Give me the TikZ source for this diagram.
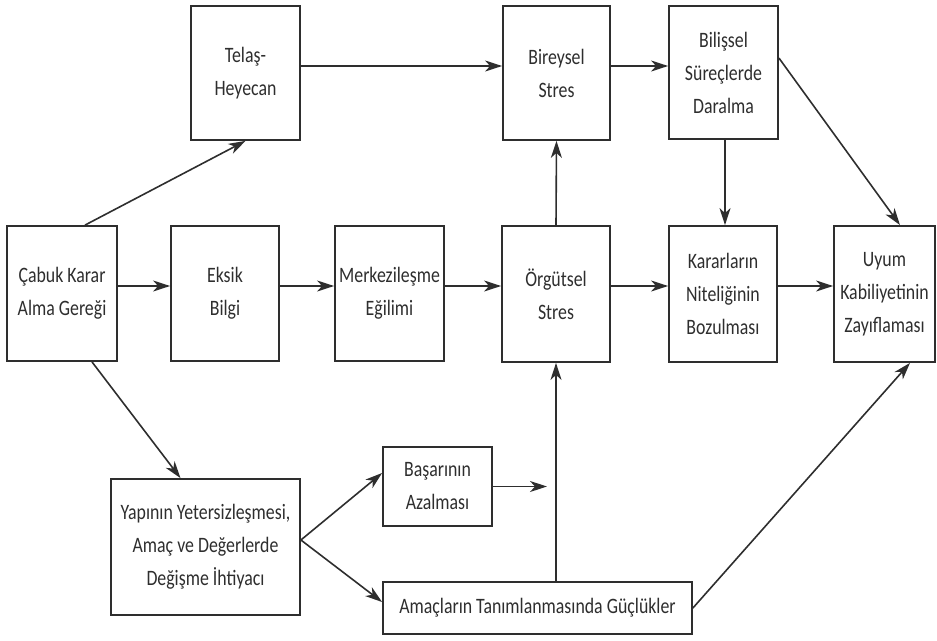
\documentclass[tikz,border=0pt]{standalone}
\usepackage{fontspec}
\setmainfont[FakeStretch=0.81]{Carlito}
\usetikzlibrary{arrows.meta,calc}
\definecolor{ink}{HTML}{2E2E2E}
\tikzset{
  box/.style={draw=ink,line width=1.8pt,rectangle,align=center,inner sep=0pt,
    font=\fontsize{22}{33}\selectfont,text=ink},
  arr/.style={draw=ink,line width=1.6pt,-{Stealth[length=17pt,width=11pt,inset=5pt]}},
}
\begin{document}
\begin{tikzpicture}[x=1pt,y=-1pt]
\useasboundingbox (0,0) rectangle (937,640);
\node[box,minimum width=110pt,minimum height=135pt] (cabuk) at (62,293.5) {Çabuk Karar\\Alma Gereği};
\node[box,minimum width=109pt,minimum height=134pt] (telas) at (245.5,73) {Telaş-\\Heyecan};
\node[box,minimum width=108pt,minimum height=135pt] (eksik) at (225,293.5) {Eksik\\Bilgi};
\node[box,minimum width=109pt,minimum height=135pt] (merkez) at (389.5,293.5) {Merkezileşme\\Eğilimi};
\node[box,minimum width=107pt,minimum height=134pt] (bireysel) at (556.5,73) {Bireysel\\Stres};
\node[box,minimum width=109pt,minimum height=133pt] (bilissel) at (723.5,72.5) {Bilişsel\\Süreçlerde\\Daralma};
\node[box,minimum width=108pt,minimum height=136pt] (orgutsel) at (556,294) {Örgütsel\\Stres};
\node[box,minimum width=108pt,minimum height=136pt] (kararlar) at (723,294) {Kararların\\Niteliğinin\\Bozulması};
\node[box,minimum width=101pt,minimum height=136pt] (uyum) at (884.5,294) {Uyum\\Kabiliyetinin\\Zayıflaması};
\node[box,minimum width=109pt,minimum height=79pt] (basari) at (437.5,486.5) {Başarının\\Azalması};
\node[box,minimum width=189pt,minimum height=136pt] (yapi) at (205.5,547) {Yapının Yetersizleşmesi,\\Amaç ve Değerlerde\\Değişme İhtiyacı};
\node[box,minimum width=309pt,minimum height=52pt] (amac) at (537.5,608) {Amaçların Tanımlanmasında Güçlükler};
\coordinate (bend) at (547,486.5);

\draw[arr] ([xshift=23pt]cabuk.north) -- (telas.south);
\draw[arr] ([yshift=7.5pt]cabuk.east) -- ([yshift=7.5pt]eksik.west);
\draw[arr] ([yshift=7.5pt]eksik.east) -- ([yshift=7.5pt]merkez.west);
\draw[arr] ([yshift=7.5pt]merkez.east) -- ([yshift=8pt]orgutsel.west);
\draw[arr] ([yshift=8pt]orgutsel.east) -- ([yshift=8pt]kararlar.west);
\draw[arr] ([yshift=8pt]kararlar.east) -- ([yshift=8pt]uyum.west);
\draw[arr] ([xshift=30pt]cabuk.south) -- ([xshift=-25pt]yapi.north);
\draw[arr] ([yshift=7pt]telas.east) -- ([yshift=7pt]bireysel.west);
\draw[arr] ([yshift=7pt]bireysel.east) -- ([yshift=6.5pt]bilissel.west);
\draw[arr] (orgutsel.north) -- (bireysel.south);
\draw[arr] ([xshift=1.5pt]bilissel.south) -- ([xshift=2pt]kararlar.north);
\draw[arr] ([yshift=14.5pt]bilissel.east) -- ([xshift=15.5pt]uyum.north);
\draw[arr] ([yshift=7pt]yapi.east) -- ([yshift=13.5pt]basari.west);
\draw[arr] ([yshift=7pt]yapi.east) -- ([yshift=6pt]amac.west);
\draw[arr] (basari.east) -- (bend);
\draw[arr] (amac.north -| orgutsel.south) -- (orgutsel.south);
\draw[arr] (amac.east) -- ([xshift=25.5pt]uyum.south);
\end{tikzpicture}
\end{document}
